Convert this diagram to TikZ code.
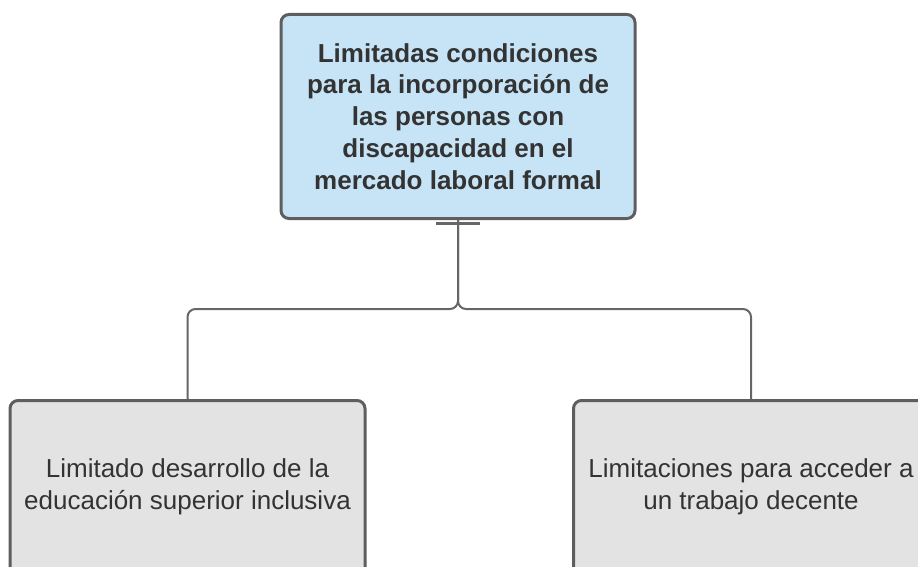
\documentclass[tikz,border=0pt]{standalone}
\usepackage{fontspec}
\setmainfont{Liberation Sans}
\definecolor{boxline}{HTML}{5E5E5E}
\definecolor{topfill}{HTML}{C6E4F6}
\definecolor{grayfill}{HTML}{E3E3E3}
\definecolor{txt}{HTML}{333333}
\definecolor{conn}{HTML}{666666}
\tikzset{
  card/.style={draw=boxline, line width=3pt, rounded corners=8pt, align=center,
    text=txt, inner sep=0pt, font=\fontsize{26}{32}\selectfont},
  topcard/.style={card, fill=topfill, minimum width=354pt, minimum height=204pt,
    font=\fontsize{26}{31.8}\selectfont\bfseries},
  subcard/.style={card, fill=grayfill, minimum width=355pt, minimum height=200pt},
  subtext/.style={align=center, text=txt, inner sep=0pt, font=\fontsize{26}{32.5}\selectfont},
  link/.style={draw=conn, line width=2pt, rounded corners=8pt},
  bar/.style={draw=conn, line width=3pt}
}
\begin{document}
\begin{tikzpicture}[x=1pt,y=-1pt]
\useasboundingbox (0,0) rectangle (918,567);
\node[topcard] (top) at (458,116.5) {Limitadas condiciones\\para la incorporación de\\las personas con\\discapacidad en el\\mercado laboral formal};
\node[subcard, anchor=north] (left) at (187.5,399) {};
\node[subtext] (lefttext) at (187.5,487) {Limitado desarrollo de la\\educación superior inclusiva};
\node[subcard, anchor=north] (right) at (751,399) {};
\node[subtext] (righttext) at (751,487) {Limitaciones para acceder a\\un trabajo decente};
\coordinate (split) at (458,309);
\draw[link] (top.south) -- (split) -| (left.north);
\draw[link] (top.south) -- (split) -| (right.north);
\draw[bar] ([xshift=-22pt,yshift=-3.5pt]top.south) -- ([xshift=22pt,yshift=-3.5pt]top.south);
\end{tikzpicture}
\end{document}
